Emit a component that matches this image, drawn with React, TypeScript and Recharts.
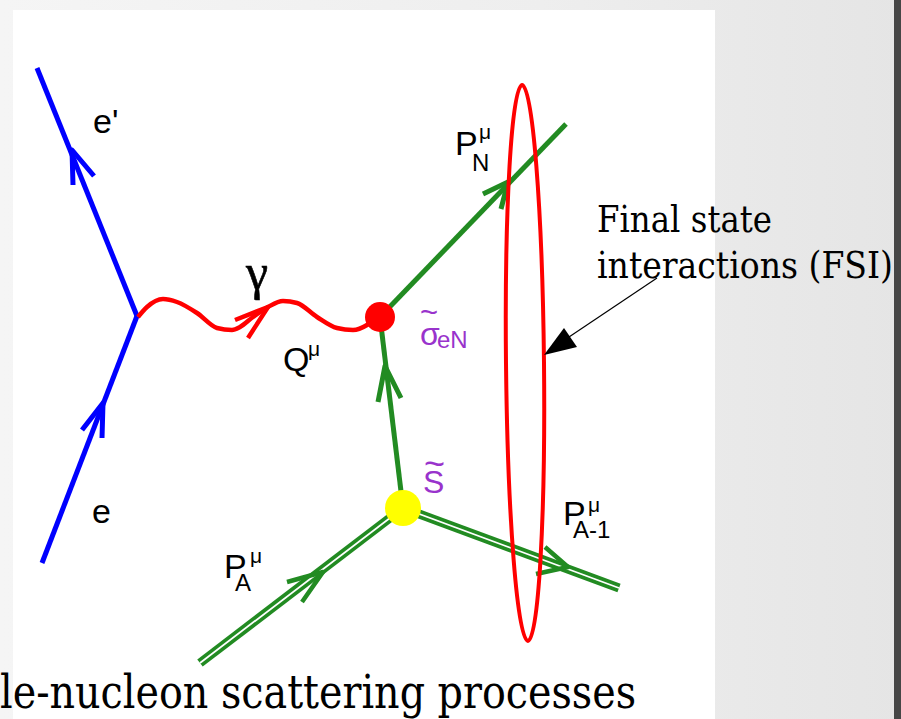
import React from 'react';
import { ComposedChart, Line, Scatter, XAxis, YAxis } from 'recharts';

// ---------- diagram data (pixel-space coordinates on a 901 x 719 plane) ----------
const outgoingElectron = [{ x: 37, y: 68 }, { x: 137, y: 316 }];
const incomingElectron = [{ x: 42, y: 563 }, { x: 137, y: 316 }];
const outgoingElectronArrow = [{ x: 73, y: 185 }, { x: 72, y: 150 }, { x: 94, y: 176 }];
const incomingElectronArrow = [{ x: 82, y: 430 }, { x: 103, y: 403 }, { x: 102, y: 438 }];

const photonWave = [
  { x: 138, y: 317 }, { x: 147, y: 307 }, { x: 163, y: 299 }, { x: 177, y: 302 },
  { x: 197, y: 313 }, { x: 217, y: 328 }, { x: 232, y: 330 }, { x: 240, y: 327 },
  { x: 253, y: 317 }, { x: 268, y: 307 }, { x: 283, y: 301 }, { x: 297, y: 303 },
  { x: 317, y: 317 }, { x: 337, y: 328 }, { x: 353, y: 330 }, { x: 367, y: 325 },
  { x: 375, y: 319 },
];
const photonArrow = [{ x: 235, y: 320 }, { x: 268, y: 307 }, { x: 248, y: 338 }];

const knockedNucleon = [{ x: 380, y: 317 }, { x: 566, y: 124 }];
const knockedNucleonArrow = [{ x: 483, y: 194 }, { x: 508, y: 182 }, { x: 501, y: 209 }];
const boundNucleon = [{ x: 380, y: 317 }, { x: 403, y: 508 }];
const boundNucleonArrow = [{ x: 378, y: 402 }, { x: 385, y: 366 }, { x: 401, y: 398 }];
const targetNucleus = [{ x: 200, y: 663 }, { x: 403, y: 508 }];
const targetNucleusArrow = [{ x: 287, y: 582 }, { x: 323, y: 572 }, { x: 302, y: 602 }];
const residualNucleus = [{ x: 403, y: 508 }, { x: 619, y: 588 }];
const residualNucleusArrow = [{ x: 545, y: 547 }, { x: 568, y: 567 }, { x: 536, y: 574 }];

const fsiPointer = [{ x: 657, y: 278 }, { x: 566, y: 339 }];
const fsiPointerTip = [{ x: 544, y: 355 }];
const fsiRegion = [{ x: 525, y: 363 }];

const photonVertex = [{ x: 380, y: 317 }];
const spectralVertex = [{ x: 403, y: 508 }];

const sansLabels = [
  { id: 'eOut', x: 93, y: 133, main: "e'", sub: '', sup: '' },
  { id: 'eIn', x: 92, y: 523, main: 'e', sub: '', sup: '' },
  { id: 'Q', x: 283, y: 371, main: 'Q', sub: '', sup: 'μ' },
  { id: 'PN', x: 455, y: 155, main: 'P', sub: 'N', sup: 'μ' },
  { id: 'PA', x: 224, y: 578, main: 'P', sub: 'A', sup: 'μ' },
  { id: 'PA1', x: 563, y: 525, main: 'P', sub: 'A-1', sup: 'μ' },
];
const purpleLabels = [
  { id: 'sigma', x: 420, y: 345, main: 'σ', sub: 'eN' },
  { id: 'S', x: 423, y: 493, main: 'S', sub: '' },
];
const gammaLabel = [{ x: 246, y: 289, text: 'γ' }];
const fsiText = [
  { x: 597, y: 232, text: 'Final state', width: 175 },
  { x: 597, y: 278, text: 'interactions (FSI)', width: 296 },
];
const captionText = [{ x: 0, y: 708, text: 'le-nucleon scattering processes', width: 636 }];

// ---------- styling / layout ----------
const BLUE = '#0000ff';
const RED = '#ff0000';
const GREEN = '#228b22';
const PURPLE = '#9933cc';
const SANS = '"Liberation Sans", Arial, sans-serif';
const SERIF = '"DejaVu Serif", serif';

const subSupLayout: Record<string, { subDx: number; supDx: number; subDy: number; supDy: number }> = {
  eOut: { subDx: 0, supDx: 0, subDy: 0, supDy: 0 },
  eIn: { subDx: 0, supDx: 0, subDy: 0, supDy: 0 },
  Q: { subDx: 0, supDx: 25, subDy: 0, supDy: -15 },
  PN: { subDx: 17, supDx: 24, subDy: 16, supDy: -16 },
  PA: { subDx: 11, supDx: 26, subDy: 13, supDy: -15 },
  PA1: { subDx: 10, supDx: 25, subDy: 13, supDy: -13 },
};

const tildeLayout: Record<string, { dx: number; dy: number; size: number }> = {
  sigma: { dx: 0, dy: -22, size: 31 },
  S: { dx: 1, dy: -17, size: 36 },
};

const SansLabel = (p: any) => {
  const d = p.payload;
  const l = subSupLayout[d.id];
  return (
    <g>
      <text x={p.cx} y={p.cy} fontFamily={SANS} fontSize={34} fill="#000">{d.main}</text>
      {d.sub ? (
        <text x={p.cx + l.subDx} y={p.cy + l.subDy} fontFamily={SANS} fontSize={24} fill="#000">{d.sub}</text>
      ) : null}
      {d.sup ? (
        <text x={p.cx + l.supDx} y={p.cy + l.supDy} fontFamily={SANS} fontSize={21} fill="#000">{d.sup}</text>
      ) : null}
    </g>
  );
};

const PurpleLabel = (p: any) => {
  const d = p.payload;
  const t = tildeLayout[d.id];
  return (
    <g>
      <text x={p.cx} y={p.cy} fontFamily={SANS} fontSize={32} fill={PURPLE}>{d.main}</text>
      <text x={p.cx + t.dx} y={p.cy + t.dy} fontFamily={SANS} fontSize={t.size} fill={PURPLE}>~</text>
      {d.sub ? (
        <text x={p.cx + 17} y={p.cy + 3} fontFamily={SANS} fontSize={24} fill={PURPLE}>{d.sub}</text>
      ) : null}
    </g>
  );
};

const GammaLabel = (p: any) => (
  <text x={p.cx} y={p.cy} fontFamily='"Liberation Serif", serif' fontSize={50} fill="#000" stroke="#000" strokeWidth={0.6}>{p.payload.text}</text>
);

const FsiText = (p: any) => (
  <text x={p.cx} y={p.cy} fontFamily={SERIF} fontSize={37} fill="#000" textLength={p.payload.width} lengthAdjust="spacingAndGlyphs">{p.payload.text}</text>
);

const CaptionText = (p: any) => (
  <text x={p.cx} y={p.cy} fontFamily={SERIF} fontSize={46} fill="#000" textLength={p.payload.width} lengthAdjust="spacingAndGlyphs">{p.payload.text}</text>
);

const Dot = (color: string, r: number) => (p: any) => <circle cx={p.cx} cy={p.cy} r={r} fill={color} />;

const FsiEllipse = (p: any) => (
  <ellipse cx={p.cx} cy={p.cy} rx={19} ry={278} fill="none" stroke={RED} strokeWidth={4}
    transform={`rotate(-0.6 ${p.cx} ${p.cy})`} />
);

const PointerHead = (p: any) => (
  <polygon points={`${p.cx},${p.cy} ${p.cx + 20},${p.cy - 27} ${p.cx + 33},${p.cy - 8}`} fill="#000" />
);

const seg = (data: any[], color: string, width: number, type: any = 'linear') => (
  <Line data={data} dataKey="y" type={type} stroke={color} strokeWidth={width} dot={false}
    activeDot={false} isAnimationActive={false} legendType="none" strokeLinejoin="round" />
);

export default function App() {
  return (
    <div style={{ position: 'absolute', left: 0, top: 0, width: 901, height: 719, overflow: 'hidden',
      background: 'linear-gradient(90deg, #f5f5f5 0%, #eeeeee 60%, #e5e5e5 100%)' }}>
      <div style={{ position: 'absolute', left: 13, top: 10, width: 702, height: 709, background: '#ffffff' }} />
      <div style={{ position: 'absolute', left: 894, top: 0, width: 7, height: 719, background: '#464646' }} />
      <div style={{ position: 'absolute', left: 0, top: 0 }}>
        <ComposedChart width={901} height={719} margin={{ top: 0, right: 0, bottom: 0, left: 0 }}>
          <XAxis type="number" dataKey="x" domain={[0, 901]} allowDataOverflow hide height={0} />
          <YAxis type="number" dataKey="y" domain={[0, 719]} allowDataOverflow reversed hide width={0} />

          {seg(outgoingElectron, BLUE, 5)}
          {seg(incomingElectron, BLUE, 5)}
          {seg(outgoingElectronArrow, BLUE, 5)}
          {seg(incomingElectronArrow, BLUE, 5)}

          {seg(photonWave, RED, 4.5, 'monotone')}
          {seg(photonArrow, RED, 4.5)}

          {seg(knockedNucleon, GREEN, 5)}
          {seg(knockedNucleonArrow, GREEN, 5)}
          {seg(boundNucleon, GREEN, 5)}
          {seg(boundNucleonArrow, GREEN, 5)}

          {seg(targetNucleus, GREEN, 9)}
          {seg(targetNucleus, '#ffffff', 1.8)}
          {seg(targetNucleusArrow, GREEN, 4.5)}
          {seg(residualNucleus, GREEN, 9)}
          {seg(residualNucleus, '#ffffff', 1.8)}
          {seg(residualNucleusArrow, GREEN, 4.5)}

          {seg(fsiPointer, '#000000', 1.2)}

          <Scatter data={fsiRegion} dataKey="y" shape={FsiEllipse} isAnimationActive={false} legendType="none" />
          <Scatter data={fsiPointerTip} dataKey="y" shape={PointerHead} isAnimationActive={false} legendType="none" />
          <Scatter data={photonVertex} dataKey="y" shape={Dot(RED, 15)} isAnimationActive={false} legendType="none" />
          <Scatter data={spectralVertex} dataKey="y" shape={Dot('#ffff00', 18)} isAnimationActive={false} legendType="none" />

          <Scatter data={sansLabels} dataKey="y" shape={SansLabel} isAnimationActive={false} legendType="none" />
          <Scatter data={purpleLabels} dataKey="y" shape={PurpleLabel} isAnimationActive={false} legendType="none" />
          <Scatter data={gammaLabel} dataKey="y" shape={GammaLabel} isAnimationActive={false} legendType="none" />
          <Scatter data={fsiText} dataKey="y" shape={FsiText} isAnimationActive={false} legendType="none" />
          <Scatter data={captionText} dataKey="y" shape={CaptionText} isAnimationActive={false} legendType="none" />
        </ComposedChart>
      </div>
    </div>
  );
}
